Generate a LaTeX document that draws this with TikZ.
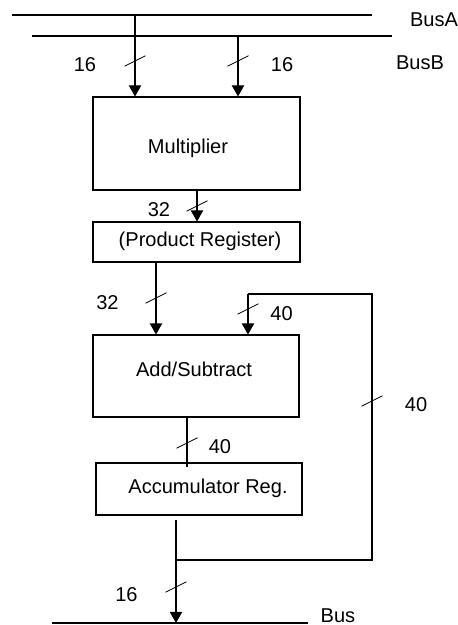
\documentclass[tikz,border=0pt]{standalone}
\usepackage{fontspec}
\setmainfont{Liberation Sans}
\usetikzlibrary{arrows.meta,calc}

\begin{document}
\begin{tikzpicture}[font=\fontsize{11.4}{13}\selectfont,
  blk/.style={draw,line width=0.6pt,inner sep=0pt},
  wire/.style={line width=0.6pt},
  arr/.style={wire,-{Triangle[length=6.3pt,width=7pt]}},
  busline/.style={line width=1.2pt}]
\useasboundingbox (0,0) rectangle (9.16,-12.5);
% buses
\coordinate (A0) at (0.24,-0.30); \coordinate (A1) at (7.44,-0.30);
\coordinate (B0) at (0.64,-0.72); \coordinate (B1) at (7.84,-0.72);
\coordinate (C0) at (1.04,-12.46); \coordinate (C1) at (6.16,-12.46);
\draw[busline] (A0)--(A1); \draw[busline] (B0)--(B1); \draw[busline] (C0)--(C1);
\node (busA) at (8.68,-0.40) {BusA}; \node (busB) at (8.40,-1.26) {BusB}; \node[inner sep=0pt] (bus) at (6.76,-12.32) {Bus};
% blocks
\node[blk,minimum width=4.14cm,minimum height=1.86cm] (mul) at (3.93,-2.87) {};
\node (multxt) at (3.76,-2.96) {Multiplier};
\node[blk,minimum width=4.14cm,minimum height=0.80cm] (prod) at (3.93,-4.84) {};
\node (prodtxt) at (4.00,-4.82) {(Product Register)};
\node[blk,minimum width=4.12cm,minimum height=1.64cm] (as) at (3.92,-7.52) {};
\node (astxt) at (3.88,-7.38) {Add/Subtract};
\node[blk,minimum width=4.12cm,minimum height=1.04cm] (acc) at (3.98,-9.78) {};
\node (acctxt) at (4.16,-9.76) {Accumulator Reg.};
% connectors
\coordinate (tapA) at (2.70,-0.30); \draw[arr] (tapA) -- (tapA |- mul.north);
\coordinate (tapB) at (4.76,-0.72); \draw[arr] (tapB) -- (tapB |- mul.north);
\coordinate (m1) at (3.94,-3.80); \draw[arr] (m1) -- (m1 |- prod.north);
\coordinate (p1) at (3.12,-5.24); \draw[arr] (p1) -- (p1 |- as.north);
\coordinate (s1) at (3.74,-8.34); \draw[wire] (s1) -- ($(s1 |- acc.north)+(0,-0.10)$);
\coordinate (o1) at (3.52,-10.40); \draw[arr] (o1) -- (o1 |- C0);
\coordinate (jn) at (3.52,-11.20); \coordinate (fbR) at (7.44,-5.88); \coordinate (fb) at (4.96,-5.88);
\draw[wire] (jn) -- (jn -| fbR) -- (fbR) -- (fb);
\draw[arr] (fb) -- (fb |- as.north);
% width marks
\foreach \x/\y in {2.70/-1.22,4.76/-1.22,3.94/-4.12,3.12/-5.96,4.96/-6.18,3.74/-8.86,7.44/-8.02,3.52/-11.74}
  \draw[line width=0.5pt] ($(\x,\y)+(-0.21,-0.105)$) -- ($(\x,\y)+(0.21,0.105)$);
\foreach \x/\y/\t [count=\i] in {1.70/-1.30/16,5.64/-1.30/16,3.18/-4.20/32,2.15/-6.06/32,5.63/-6.27/40,4.40/-8.93/40,8.32/-8.10/40,2.53/-11.90/16}
  \node (w\i) at (\x,\y) {\t};
\end{tikzpicture}
\end{document}
